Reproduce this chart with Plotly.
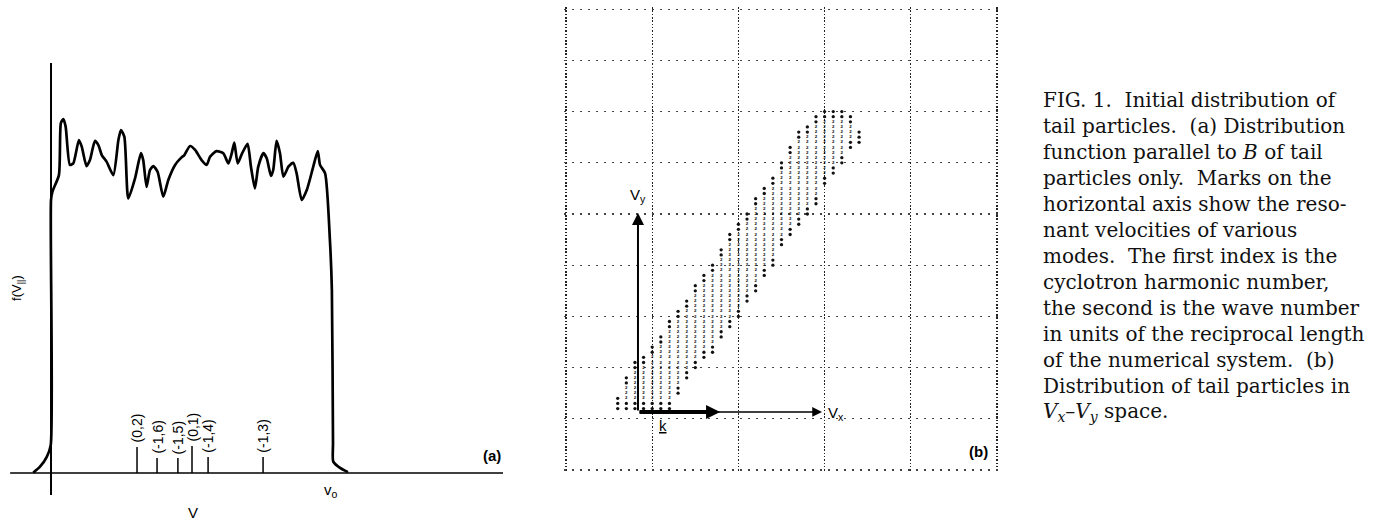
import plotly.graph_objects as go

W, H = 1383, 521

# ---------------- Panel (a): f(V||) ----------------
# V in percent of v_o, f in arbitrary units
curve_v = [-6.3, -3.9, -1.5, -0.1, 0.0, 0.5, 2.8, 3.5, 4.4, 5.2,
           6.7, 7.9, 9.9, 10.9, 12.6, 13.8, 15.6, 16.8, 18.0, 19.7,
           22.1, 23.9, 24.8, 26.0, 27.4, 29.8, 31.9, 32.7, 33.9, 35.1,
           36.3, 37.8, 39.8, 41.6, 44.0, 46.3, 47.3, 49.3, 51.1, 53.4,
           55.2, 56.4, 58.7, 61.1, 62.9, 64.1, 65.0, 66.2, 67.8, 69.7,
           70.9, 72.3, 73.5, 75.3, 76.5, 78.0, 78.8, 80.0, 81.2, 82.4,
           84.2, 85.9, 87.1, 88.9, 90.7, 93.0, 94.6, 95.4, 97.2, 98.9,
           99.6, 100.0, 100.1, 102.5, 105.3]
curve_f = [0.1, 2.1, 5.4, 9.3, 91.0, 93.8, 99.3, 116.6, 118.0, 115.4,
           102.7, 103.2, 111.0, 108.8, 102.3, 104.3, 110.7, 109.3, 106.0, 103.8,
           99.3, 111.0, 114.3, 112.1, 91.5, 98.2, 106.6, 104.3, 95.4, 101.0,
           102.3, 100.4, 92.1, 97.7, 102.7, 105.2, 106.0, 109.0, 107.7, 104.3,
           102.7, 105.4, 107.3, 106.6, 103.2, 106.6, 110.1, 103.2, 106.6, 109.7,
           102.1, 94.9, 102.1, 106.6, 104.9, 99.0, 101.0, 110.7, 106.6, 98.8,
           102.1, 103.4, 99.9, 91.0, 94.3, 102.1, 107.3, 102.7, 99.9, 77.7,
           61.0, 10.0, 3.8, 1.7, 0.3]

tick_v = [30.5, 37.6, 45.0, 50.0, 55.7, 75.2]
tick_h = [8.7, 5.0, 5.0, 9.0, 5.3, 5.3]
tick_labels = ["(0,2)", "(-1,6)", "(-1,5)", "(0,1)", "(-1,4)", "(-1,3)"]

axis_v_extent = [-14.5, 160.3]   # horizontal axis extent (V)
axis_f_extent = [-7.3, 136.7]    # vertical axis extent (f)

# ---------------- Panel (b): Vx-Vy particle cloud ----------------
# x, y in grid-cell units; for each printer column the occupied y-range
cloud_col = [0.6, 0.7, 0.8, 0.9, 1.0, 1.1, 1.2, 1.3, 1.4, 1.5,
             1.6, 1.7, 1.8, 1.9, 2.0, 2.1, 2.2, 2.3, 2.4, 2.5,
             2.6, 2.7, 2.8, 2.9, 3.0, 3.1, 3.2, 3.3, 3.4]
cloud_lo = [1.17, 1.13, 1.13, 1.13, 1.13, 1.13, 1.13, 1.50, 1.73, 1.94,
            2.16, 2.27, 2.58, 2.78, 2.98, 3.25, 3.48, 3.72, 3.91, 4.34,
            4.54, 4.73, 4.93, 5.12, 5.51, 5.75, 5.96, 6.22, 6.40]
cloud_hi = [1.45, 1.80, 2.10, 2.26, 2.49, 2.69, 2.94, 3.16, 3.39, 3.63,
            3.82, 4.02, 4.35, 4.64, 4.88, 5.09, 5.33, 5.54, 5.78, 6.05,
            6.34, 6.60, 6.79, 6.95, 7.05, 7.06, 7.02, 6.90, 6.65]
row_step = 0.1
cloud_char = "2"   # printer character used for the interior of the band

origin_xy = (0.835, 1.133)
vx_end = 2.97
vy_end = 5.02
k_end = 1.787

caption_lines = [
    "FIG. 1.\u00a0\u00a0Initial distribution of",
    "tail particles.\u00a0\u00a0(a) Distribution",
    "function parallel to <i>B</i> of tail",
    "particles only.\u00a0\u00a0Marks on the",
    "horizontal axis show the reso-",
    "nant velocities of various",
    "modes.\u00a0\u00a0The first index is the",
    "cyclotron harmonic number,",
    "the second is the wave number",
    "in units of the reciprocal length",
    "of the numerical system.\u00a0\u00a0(b)",
    "Distribution of tail particles in",
    "<i>V<sub>x</sub></i>\u2013<i>V<sub>y</sub></i> space.",
]

# ---------------- build ----------------
fig = go.Figure()

# axes of panel (a)
fig.add_trace(go.Scatter(x=axis_v_extent, y=[0, 0], mode="lines",
                         line=dict(color="black", width=1.6),
                         xaxis="x", yaxis="y", hoverinfo="skip", showlegend=False))
fig.add_trace(go.Scatter(x=[0, 0], y=axis_f_extent, mode="lines",
                         line=dict(color="black", width=2),
                         xaxis="x", yaxis="y", hoverinfo="skip", showlegend=False))
# resonance marks
tx, ty = [], []
for v, h in zip(tick_v, tick_h):
    tx += [v, v, None]
    ty += [0, h, None]
fig.add_trace(go.Scatter(x=tx, y=ty, mode="lines",
                         line=dict(color="black", width=1.5),
                         xaxis="x", yaxis="y", hoverinfo="skip", showlegend=False))
# distribution curve
fig.add_trace(go.Scatter(x=curve_v, y=curve_f, mode="lines",
                         line=dict(color="black", width=2.7, shape="spline", smoothing=0.6),
                         xaxis="x", yaxis="y", hoverinfo="skip", showlegend=False))

# particle cloud
edge_x, edge_y, in_x, in_y = [], [], [], []
for cx, lo, hi in zip(cloud_col, cloud_lo, cloud_hi):
    n0 = int(round(lo / row_step + 0.49))
    n1 = int(round(hi / row_step - 0.49))
    rows = list(range(n0, n1 + 1))
    for j, n in enumerate(rows):
        yv = n * row_step
        if j < 2 or j >= len(rows) - 2:
            edge_x.append(cx); edge_y.append(yv)
        else:
            in_x.append(cx); in_y.append(yv)
fig.add_trace(go.Scatter(x=in_x, y=in_y, mode="text", text=[cloud_char] * len(in_x),
                         textfont=dict(family="Liberation Sans, Arial, sans-serif",
                                       size=4.4, color="#000", weight="bold"),
                         xaxis="x2", yaxis="y2", hoverinfo="skip", showlegend=False))
fig.add_trace(go.Scatter(x=edge_x, y=edge_y, mode="markers",
                         marker=dict(symbol="circle", size=3.3, color="#111"),
                         xaxis="x2", yaxis="y2", hoverinfo="skip", showlegend=False))

sans = "Liberation Sans, Arial, sans-serif"
ann = []
for v, h, lab in zip(tick_v, tick_h, tick_labels):
    ann.append(dict(x=v, y=h, xref="x", yref="y", text=lab, showarrow=False,
                    textangle=-90, xanchor="center", yanchor="bottom", yshift=2,
                    font=dict(family=sans, size=14, color="black")))
ann += [
    dict(x=-11.7, y=61.7, xref="x", yref="y", text="f(V<sub>||</sub>)", showarrow=False,
         textangle=-90, font=dict(family=sans, size=13, color="black")),
    dict(x=50.4, y=-13.3, xref="x", yref="y", text="V", showarrow=False,
         font=dict(family=sans, size=15, color="black")),
    dict(x=99.3, y=-5.7, xref="x", yref="y", text="v<sub>o</sub>", showarrow=False,
         font=dict(family=sans, size=15, color="black")),
    dict(x=156.4, y=6, xref="x", yref="y", text="<b>(a)</b>", showarrow=False,
         font=dict(family=sans, size=15, color="black")),
]
ox, oy = origin_xy
ann += [
    dict(x=ox, y=vy_end, ax=ox, ay=oy, xref="x2", yref="y2", axref="x2", ayref="y2",
         text="", showarrow=True, arrowhead=2, arrowsize=1.2, arrowwidth=2, arrowcolor="black"),
    dict(x=vx_end, y=oy, ax=ox, ay=oy, xref="x2", yref="y2", axref="x2", ayref="y2",
         text="", showarrow=True, arrowhead=2, arrowsize=1.3, arrowwidth=1.5, arrowcolor="black"),
    dict(x=k_end, y=oy, ax=ox, ay=oy, xref="x2", yref="y2", axref="x2", ayref="y2",
         text="", showarrow=True, arrowhead=2, arrowsize=0.7, arrowwidth=4, arrowcolor="black"),
    dict(x=0.835, y=5.37, xref="x2", yref="y2", text="V<sub>y</sub>", showarrow=False,
         font=dict(family=sans, size=15, color="black")),
    dict(x=3.016, y=1.113, xref="x2", yref="y2", text="V<sub>x</sub>", showarrow=False,
         xanchor="left", font=dict(family=sans, size=15, color="black")),
    dict(x=1.125, y=0.86, xref="x2", yref="y2", text="<u>k</u>", showarrow=False,
         font=dict(family=sans, size=15, color="black")),
    dict(x=4.79, y=0.37, xref="x2", yref="y2", text="<b>(b)</b>", showarrow=False,
         font=dict(family=sans, size=15, color="black")),
]
serif = "DejaVu Serif, serif"
for i, line in enumerate(caption_lines):
    yc = 100 + 26 * i
    ann.append(dict(x=1041 / W, y=1 - yc / H, xref="paper", yref="paper", text=line,
                    showarrow=False, xanchor="left", yanchor="middle",
                    font=dict(family=serif, size=20, color="#111")))

hidden = dict(visible=False, showgrid=False, zeroline=False)
fig.update_layout(
    width=W, height=H, autosize=False,
    margin=dict(l=0, r=0, t=0, b=0),
    paper_bgcolor="white", plot_bgcolor="white",
    showlegend=False, hovermode=False,
    xaxis=dict(domain=[0, 510 / W], range=[-18.09, 162.77], **hidden),
    yaxis=dict(domain=[0, 1], range=[-16, 157.67], **hidden),
    xaxis2=dict(domain=[564.28 / W, 998.72 / W], range=[-0.02, 5.02], anchor="y2",
                showgrid=True, tick0=0, dtick=1, gridcolor="#222", gridwidth=1.4,
                griddash="1.5px,1.8px", zeroline=False, showline=False,
                showticklabels=False, ticks=""),
    yaxis2=dict(domain=[(H - 472.05) / H, (H - 7.15) / H], range=[-0.04, 9.04], anchor="x2",
                showgrid=True, tick0=0, dtick=1, gridcolor="#444", gridwidth=1.3,
                griddash="1.5px,6.5px", zeroline=False, showline=False,
                showticklabels=False, ticks=""),
    annotations=ann,
)

fig.write_html("out.html", config={"displayModeBar": False, "staticPlot": True},
               post_script="document.body.style.margin='0px';document.body.style.overflow='hidden';")
